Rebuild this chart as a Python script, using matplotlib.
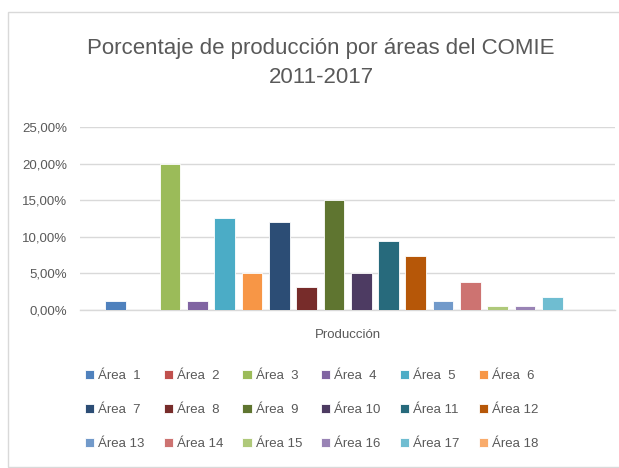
import matplotlib
matplotlib.use("Agg")
import matplotlib.pyplot as plt
from matplotlib.patches import Rectangle
from matplotlib.ticker import FuncFormatter

# datos (porcentaje de produccion por area)
areas = ["Área  1", "Área  2", "Área  3", "Área  4", "Área  5", "Área  6",
         "Área  7", "Área  8", "Área  9", "Área 10", "Área 11", "Área 12",
         "Área 13", "Área 14", "Área 15", "Área 16", "Área 17", "Área 18"]
valores = [1.2, 0.0, 20.0, 1.2, 12.6, 5.0,
           12.0, 3.1, 15.0, 5.0, 9.4, 7.4,
           1.2, 3.8, 0.5, 0.5, 1.8, 0.0]
colores = ["#4F81BD", "#C0504D", "#9BBB59", "#8064A2", "#4BACC6", "#F79646",
           "#2C4D75", "#772C2A", "#5F7530", "#4D3B62", "#276A7C", "#B65708",
           "#729ACA", "#CD7371", "#AFC97A", "#9983B5", "#6FBDD1", "#F9AB6B"]
categoria = "Producción"
titulo = "Porcentaje de producción por áreas del COMIE\n2011-2017"

plt.rcParams['font.family'] = ['Liberation Sans', 'DejaVu Sans']
gris = "#595959"

fig = plt.figure(figsize=(6.19, 4.68), dpi=100)
W, H = 619.0, 468.0
ax = fig.add_axes([80 / W, 1 - 310 / H, 535 / W, 183 / H])

# marco del grafico
fig.patches.append(Rectangle((8 / W, 1 - 467 / H), 700 / W, 455 / H,
                             transform=fig.transFigure, fill=False,
                             edgecolor="#D9D9D9", linewidth=1.0))

slot = 27.3 / 535
ancho = 20.7 / 535
n = len(valores)
barras = []
for i in range(n):
    x = (i - (n - 1) / 2.0) * slot
    b = ax.bar(x, valores[i], width=ancho, color=colores[i], edgecolor="white",
               linewidth=0.6, label=areas[i], zorder=3)
    barras.append(b)

ax.set_xlim(-0.5, 0.5)
ax.set_ylim(0, 25)
ax.set_yticks([0, 5, 10, 15, 20, 25])
ax.yaxis.set_major_formatter(FuncFormatter(lambda v, p: ("%.2f" % v).replace(".", ",") + "%"))
ax.set_xticks([0])
ax.set_xticklabels([categoria])
ax.tick_params(axis="both", length=0, colors=gris, labelsize=9.5)
ax.tick_params(axis="y", pad=9)
ax.tick_params(axis="x", pad=14)
ax.grid(axis="y", color="#D9D9D9", linewidth=1.0, zorder=0)
for s in ["top", "right", "left"]:
    ax.spines[s].set_visible(False)
ax.spines["bottom"].set_color("#D9D9D9")
ax.spines["bottom"].set_linewidth(1.0)

fig.text(321 / W, 1 - 63 / H, titulo, ha="center", va="center",
         fontsize=16, color=gris, linespacing=1.45)

# leyenda por filas (6 columnas)
orden = [r * 6 + j for j in range(6) for r in range(3)]
leg = fig.legend([barras[k] for k in orden], [areas[k] for k in orden],
                 loc="upper left", bbox_to_anchor=(85 / W, 1 - 370 / H), ncol=6,
                 frameon=False, fontsize=9.5, handlelength=0.7, handleheight=0.7,
                 handletextpad=0.3, columnspacing=1.45, labelspacing=1.65,
                 borderaxespad=0, borderpad=0)
for t in leg.get_texts():
    t.set_color(gris)

plt.savefig("out.png", dpi=100)
